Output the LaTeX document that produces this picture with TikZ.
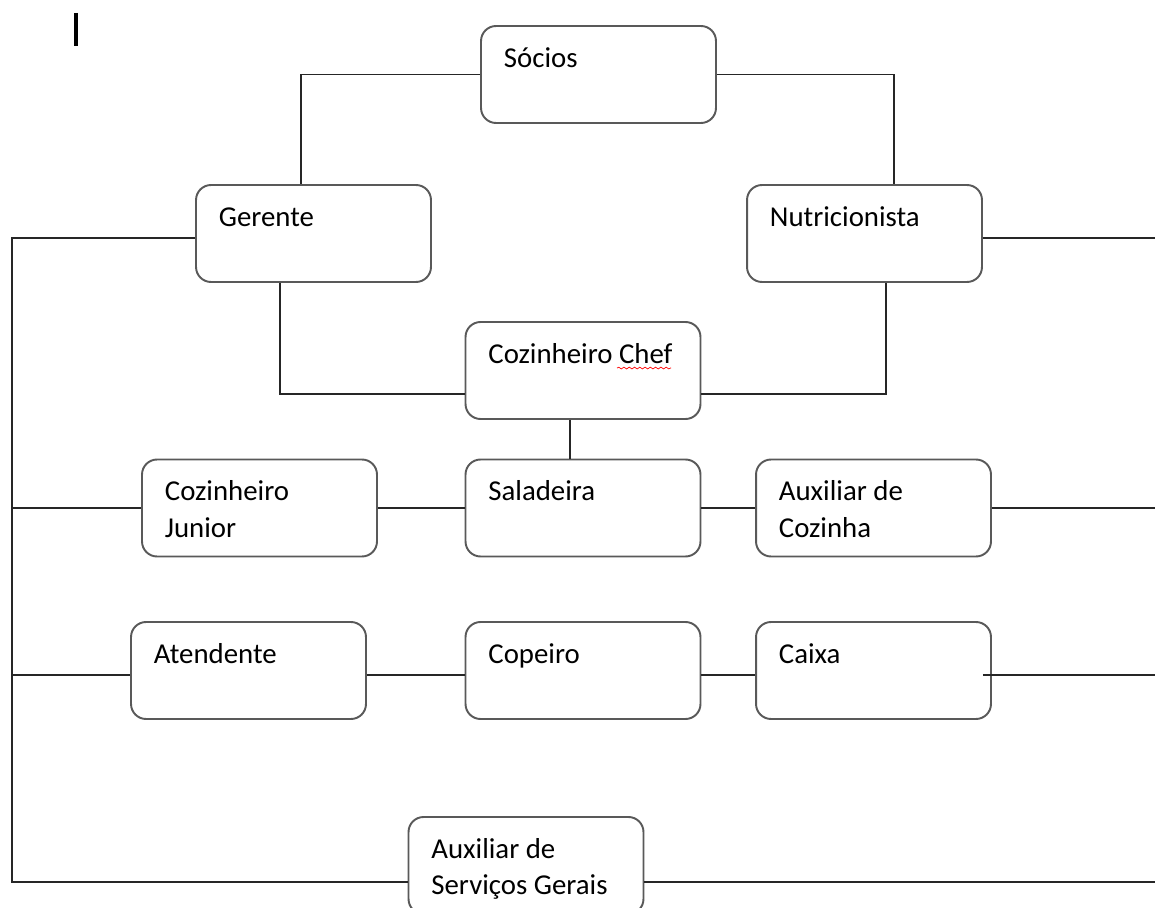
\documentclass[tikz,border=0pt]{standalone}
\usepackage{fontspec}
\setmainfont{Carlito}
\usepackage{tikz}
\usetikzlibrary{calc,decorations.pathmorphing}
\definecolor{borda}{HTML}{595959}
\definecolor{linha}{HTML}{262626}
\tikzset{
  cargo/.style={draw=borda,line width=1.1pt,rounded corners=0.3cm,
    minimum width=4.7cm,minimum height=1.94cm,inner sep=0pt},
  rotulo/.style={anchor=base west,inner sep=0pt,font=\fontsize{16.4}{21}\selectfont},
  liga/.style={draw=linha,line width=0.8pt},
}
% box + its text, top left
\newcommand{\posto}[3]{%
  \node[cargo] (#1) at (#2) {};
  \node[rotulo] (#1-t) at ($(#1.north west)+(23.5,42)$) {\parbox[t]{4.2cm}{#3}};
}

\begin{document}
\begin{tikzpicture}[x=0.02cm,y=-0.02cm]
\useasboundingbox (0,0) rectangle (1155,908);
\clip (0,0) rectangle (1155,908);
\coordinate (esq) at (12,0);
\coordinate (dir) at (1155,0);
\posto{soc}{598.5,74.5}{Sócios}
\posto{ger}{313.5,233.5}{Gerente}
\posto{nut}{864.5,233.5}{Nutricionista}
\posto{chef}{583,370.5}{Cozinheiro Chef}
\posto{jun}{259.5,508}{Cozinheiro\\Junior}
\posto{sal}{583,508}{Saladeira}
\posto{auxc}{873.5,508}{Auxiliar de\\Cozinha}
\posto{ate}{248.5,670.5}{Atendente}
\posto{cop}{583,670.5}{Copeiro}
\posto{cai}{873.5,670.5}{Caixa}
\posto{sg}{526,865.5}{Auxiliar de\\Serviços Gerais}
% top
\draw[liga] (soc.west) -| ($(ger.north)+(-12.5,0)$);
\draw[liga] (soc.east) -| ($(nut.north)+(29.5,0)$);
\draw[liga] ($(ger.south)+(-33.5,0)$) |- ($(chef.west)+(0,23.5)$);
\draw[liga] ($(nut.south)+(21.5,0)$) |- ($(chef.east)+(0,23.5)$);
\draw[liga] ($(chef.south)+(-13,0)$) -- ($(sal.north)+(-13,0)$);
% rows
\draw[liga] (jun.east) -- (sal.west);
\draw[liga] (sal.east) -- (auxc.west);
\draw[liga] (auxc.east) -- (auxc.east -| dir);
\draw[liga] ($(ate.east)+(0,4.5)$) -- ($(cop.west)+(0,4.5)$);
\draw[liga] ($(cop.east)+(0,4.5)$) -- ($(cai.west)+(0,4.5)$);
\draw[liga] ($(cai.east)+(-9,4.5)$) -- ($(cai.east -| dir)+(0,4.5)$);
% left bus
\coordinate (gw) at ($(ger.west)+(0,4.5)$);
\coordinate (sw) at ($(sg.west)+(0,16.5)$);
\draw[liga] (gw) -- (gw -| esq) -- (sw -| esq) -- (sw);
\draw[liga] (jun.west) -- (jun.west -| esq);
\draw[liga] ($(ate.west)+(0,4.5)$) -- ($(ate.west -| esq)+(0,4.5)$);
% right
\draw[liga] ($(nut.east)+(0,4.5)$) -- ($(nut.east -| dir)+(0,4.5)$);
\draw[liga] ($(sg.east)+(0,16.5)$) -- ($(sg.east -| dir)+(0,16.5)$);
% spell mark, cursor
\draw[red,decorate,decoration={snake,amplitude=0.5pt,segment length=3pt}]
  ($(chef-t.base west)+(129,5)$) -- ($(chef-t.base west)+(183,5)$);
\draw[line width=1.9pt] (76,13) -- (76,46);
\end{tikzpicture}
\end{document}
